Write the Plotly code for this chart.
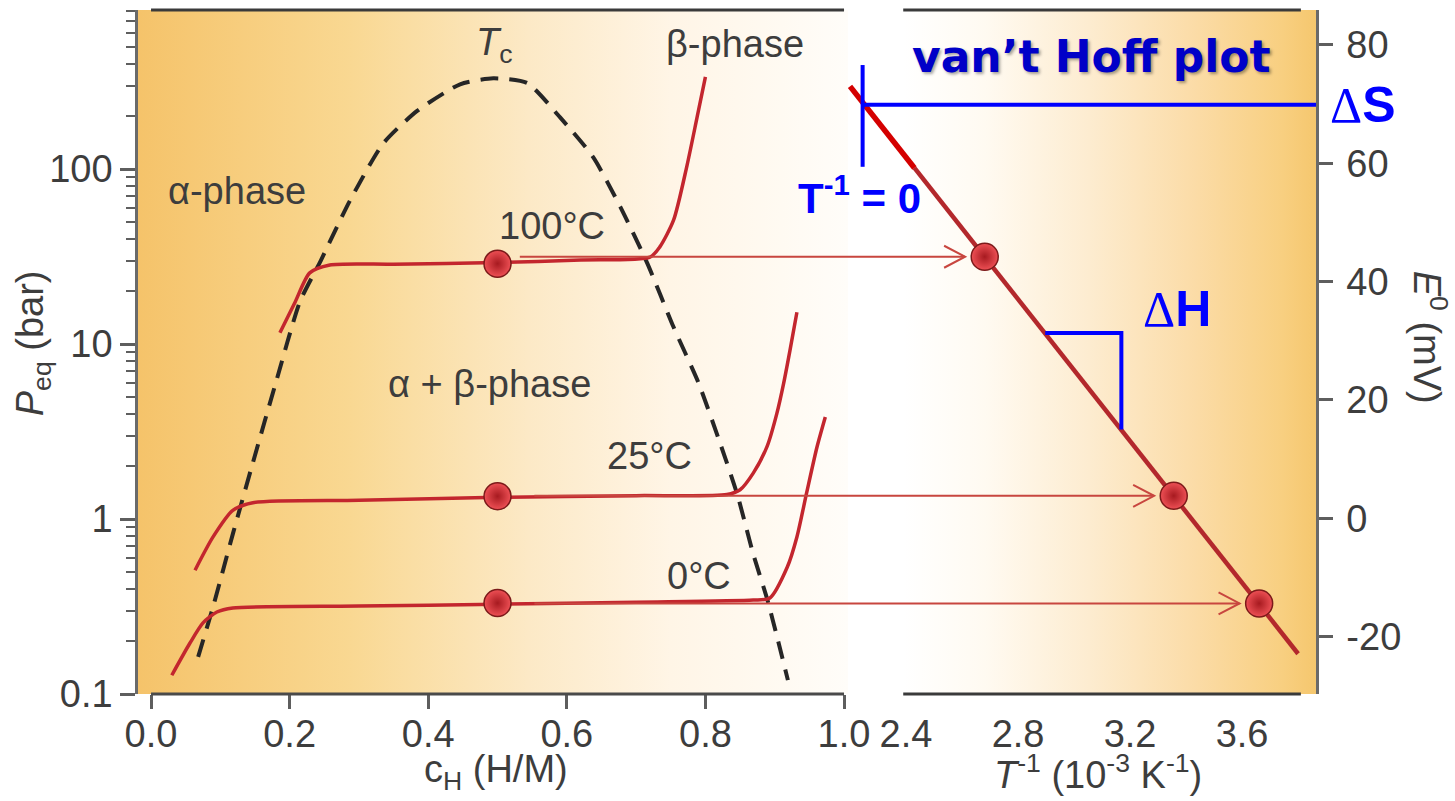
import math
import plotly.graph_objects as go

# ---------------- data ----------------
# pressure-composition isotherms (c_H in H/M, P_eq in bar)
iso100_c = [0.186, 0.208, 0.229, 0.258, 0.35, 0.50, 0.62, 0.72, 0.734, 0.754, 0.773, 0.788, 0.800]
iso100_p = [11.6, 17.4, 25.5, 28.3, 28.6, 29.2, 30.2, 31.4, 35.8, 51.0, 103.0, 198.0, 336.0]

iso25_c = [0.0635, 0.0895, 0.118, 0.147, 0.30, 0.50, 0.70, 0.831, 0.850, 0.869, 0.889, 0.903, 0.913, 0.922, 0.932]
iso25_p = [0.51, 0.79, 1.12, 1.24, 1.28, 1.33, 1.36, 1.38, 1.47, 1.83, 2.60, 4.00, 6.00, 9.20, 15.2]

iso0_c = [0.030, 0.056, 0.075, 0.095, 0.118, 0.30, 0.50, 0.70, 0.869, 0.893, 0.918, 0.932, 0.946, 0.961, 0.973]
iso0_p = [0.128, 0.195, 0.255, 0.294, 0.310, 0.318, 0.326, 0.335, 0.344, 0.354, 0.53, 0.79, 1.41, 2.58, 3.83]

# two-phase (alpha + beta) coexistence dome
dome_c = [0.068, 0.090, 0.118, 0.147, 0.180, 0.215, 0.245, 0.287, 0.335, 0.384, 0.446, 0.494,
          0.543, 0.590, 0.638, 0.677, 0.716, 0.754, 0.790, 0.820, 0.846, 0.869, 0.889, 0.905, 0.919]
dome_p = [0.163, 0.32, 0.82, 2.1, 6.0, 17.5, 30.0, 66.0, 140.0, 215.0, 305.0, 330.0,
          310.0, 198.0, 117.0, 61.0, 29.0, 12.5, 6.0, 2.8, 1.38, 0.63, 0.35, 0.20, 0.12]

# plateau points marked on the isotherms
temps = ["100°C", "25°C", "0°C"]
dot_c = [0.5, 0.5, 0.5]
dot_p = [28.8, 1.35, 0.331]

# van't Hoff plot: E0 (mV) against T^-1 (10^-3 K^-1)
inv_T = [2.681, 3.356, 3.661]
e0 = [44.2, 3.8, -14.4]
fit_x = [2.20, 2.43, 3.80]
fit_e = [73.0, 59.2, -22.9]
arrow_start_c = [0.530, 0.551, 0.551]

# construction lines for entropy / enthalpy
ds_vert_x = [2.245, 2.245]
ds_vert_e = [76.6, 59.4]
ds_horiz_x = [2.245, 3.864]
ds_horiz_e = [69.9, 69.9]
dh_x = [2.897, 3.169, 3.169]
dh_e = [31.3, 31.3, 15.0]

x_ticks_left = [0.0, 0.2, 0.4, 0.6, 0.8, 1.0]
x_ticks_right = [2.4, 2.8, 3.2, 3.6]
y_ticks_right = [-20, 0, 20, 40, 60, 80]

# ---------------- layout constants ----------------
W, H = 1455, 801
M_L, M_R, M_T, M_B = 138, 139, 10, 107
DOM_L = [0.0, 0.6027]
DOM_R = [0.545, 1.0]
XR_L = [-0.0188, 1.0057]
XR_R = [1.95, 3.864]
YR_L = [-1.0, 2.909]          # log10 range
YR_R = [-29.7, 85.9]

GRAY = "#3d3d3d"
AXC = "#5e5e5e"
RED = "#c3262e"
BLUE = "#0000ff"
FONT = "Liberation Sans"
FS = 38
DELTA = "<span style='font-family:Liberation Serif;font-weight:normal'>Δ</span>"


def c_to_x2(c):
    """Map a composition value on the left axis onto the right-hand x axis."""
    frac = (c - XR_L[0]) / (XR_L[1] - XR_L[0])
    paper = DOM_L[0] + frac * (DOM_L[1] - DOM_L[0])
    f2 = (paper - DOM_R[0]) / (DOM_R[1] - DOM_R[0])
    return XR_R[0] + f2 * (XR_R[1] - XR_R[0])


fig = go.Figure()

# background shading of both panels
p_top = 10 ** YR_L[1]
fig.add_trace(go.Scatter(
    x=[XR_L[0], XR_L[1], XR_L[1], XR_L[0], XR_L[0]],
    y=[0.1, 0.1, p_top, p_top, 0.1],
    mode="none", fill="toself",
    fillgradient=dict(type="horizontal", colorscale=[
        [0.0, "#f5c36a"], [0.3, "#f9d892"], [0.55, "#fce9c6"],
        [0.75, "#fff5e6"], [1.0, "#fffdf9"]]),
    hoverinfo="skip", xaxis="x", yaxis="y"))
fig.add_trace(go.Scatter(
    x=[2.39, XR_R[1], XR_R[1], 2.39, 2.39],
    y=[YR_R[0], YR_R[0], YR_R[1], YR_R[1], YR_R[0]],
    mode="none", fill="toself",
    fillgradient=dict(type="horizontal", colorscale=[
        [0.0, "#ffffff"], [0.2, "#fffaf1"], [0.45, "#fdecd0"],
        [0.7, "#fbdca8"], [0.92, "#f8cf80"], [1.0, "#f5c76e"]]),
    hoverinfo="skip", xaxis="x2", yaxis="y2"))

# coexistence dome
fig.add_trace(go.Scatter(
    x=dome_c, y=dome_p, mode="lines",
    line=dict(color="#262626", width=4, dash="18px,11px", shape="spline", smoothing=0.6),
    hoverinfo="skip", xaxis="x", yaxis="y"))

# isotherms
for cs, ps in [(iso100_c, iso100_p), (iso25_c, iso25_p), (iso0_c, iso0_p)]:
    fig.add_trace(go.Scatter(
        x=cs, y=ps, mode="lines",
        line=dict(color=RED, width=3.5, shape="spline", smoothing=0.7),
        hoverinfo="skip", xaxis="x", yaxis="y"))

# van't Hoff line (extrapolated part brighter)
fig.add_trace(go.Scatter(
    x=fit_x[1:], y=fit_e[1:], mode="lines",
    line=dict(color="#b3282c", width=4.5), hoverinfo="skip", xaxis="x2", yaxis="y2"))
fig.add_trace(go.Scatter(
    x=fit_x[:2], y=fit_e[:2], mode="lines",
    line=dict(color="#d40000", width=5.5), hoverinfo="skip", xaxis="x2", yaxis="y2"))

# entropy / enthalpy construction lines
fig.add_trace(go.Scatter(x=ds_vert_x, y=ds_vert_e, mode="lines",
                         line=dict(color=BLUE, width=4), hoverinfo="skip", xaxis="x2", yaxis="y2"))
fig.add_trace(go.Scatter(x=ds_horiz_x, y=ds_horiz_e, mode="lines",
                         line=dict(color=BLUE, width=4), hoverinfo="skip", xaxis="x2", yaxis="y2"))
fig.add_trace(go.Scatter(x=dh_x, y=dh_e, mode="lines",
                         line=dict(color=BLUE, width=4), hoverinfo="skip", xaxis="x2", yaxis="y2"))

ball = dict(size=27, color="#ee5055",
            gradient=dict(type="radial", color="#a71a20"),
            line=dict(color="#7c1a1a", width=1.5))
fig.add_trace(go.Scatter(x=dot_c, y=dot_p, mode="markers", marker=ball,
                         hoverinfo="skip", xaxis="x", yaxis="y", cliponaxis=False))
fig.add_trace(go.Scatter(x=inv_T, y=e0, mode="markers", marker=ball,
                         hoverinfo="skip", xaxis="x2", yaxis="y2", cliponaxis=False))

annotations = []
shapes = []

# horizontal arrows linking each plateau to the van't Hoff plot
ARROW_C = "#c8463f"
for xs, xe, e in zip(arrow_start_c, inv_T, e0):
    tip = xe - 0.07
    annotations.append(dict(
        x=tip, y=e, xref="x2", yref="y2", ax=c_to_x2(xs), ay=e, axref="x2", ayref="y2",
        text="", showarrow=True, arrowhead=0, arrowwidth=2, arrowcolor=ARROW_C))
    shapes.append(dict(
        type="path", xref="x2", yref="y2", xsizemode="pixel", ysizemode="pixel",
        xanchor=tip, yanchor=e, path="M -21,11 L 0,0 L -21,-11",
        line=dict(color=ARROW_C, width=2)))

# panel frame lines
shapes += [
    dict(type="line", xref="x", yref="paper", x0=0.0, x1=1.0, y0=0, y1=0,
         line=dict(color="#4a4a4a", width=3)),
    dict(type="line", xref="x", yref="paper", x0=0.0, x1=1.0, y0=1, y1=1,
         line=dict(color="#3a3a3a", width=3)),
    dict(type="line", xref="x2", yref="paper", x0=2.39, x1=3.81, y0=0, y1=0,
         line=dict(color="#3a3a3a", width=3)),
    dict(type="line", xref="x2", yref="paper", x0=2.39, x1=3.81, y0=1, y1=1,
         line=dict(color="#3a3a3a", width=3)),
]


def centered(**kw):
    kw.setdefault("showarrow", False)
    kw.setdefault("xanchor", "center")
    kw.setdefault("yanchor", "middle")
    return kw


def label(text, c, p, size=FS, color=GRAY):
    annotations.append(centered(x=c, y=math.log10(p), xref="x", yref="y", text=text,
                                font=dict(family=FONT, size=size, color=color)))


label("<i>T</i><sub>c</sub>", 0.496, 10 ** 2.709)
label("β-phase", 0.843, 10 ** 2.714)
label("α-phase", 0.124, 10 ** 1.874)
label("α + β-phase", 0.488, 10 ** 0.77)
label(temps[0], 0.579, 10 ** 1.674)
label(temps[1], 0.72, 10 ** 0.36)
label(temps[2], 0.791, 10 ** -0.326)

# axis titles
annotations += [
    centered(x=-0.089, y=0.513, xref="paper", yref="paper", textangle=-90,
             text="<i>P</i><sub>eq</sub> (bar)",
             font=dict(family=FONT, size=FS, color=GRAY)),
    centered(x=0.304, y=-0.114, xref="paper", yref="paper",
             text="c<sub>H</sub> (H/M)",
             font=dict(family=FONT, size=FS, color=GRAY)),
    centered(x=0.815, y=-0.114, xref="paper", yref="paper",
             text="<i>T</i><sup>-1</sup> (10<sup>-3</sup> K<sup>-1</sup>)",
             font=dict(family=FONT, size=FS, color=GRAY)),
    centered(x=1.097, y=0.522, xref="paper", yref="paper", textangle=90,
             text="<i>E</i><sup>0</sup> (mV)",
             font=dict(family=FONT, size=FS, color=GRAY)),
]

# blue labels of the van't Hoff construction
annotations += [
    centered(x=3.063, y=78.0, xref="x2", yref="y2", text="van’t Hoff plot",
             font=dict(family="DejaVu Sans", size=44, color="#0000c8", weight="bold",
                       shadow="2px 2px 3px rgba(0,0,0,0.35)")),
    centered(x=2.235, y=54.7, xref="x2", yref="y2", text="T<sup>-1</sup> = 0",
             font=dict(family=FONT, size=42, color=BLUE, weight="bold")),
    centered(x=1.04, y=69.9, xref="paper", yref="y2", text=DELTA + "S",
             font=dict(family=FONT, size=50, color=BLUE, weight="bold")),
    centered(x=3.367, y=35.3, xref="x2", yref="y2", text=DELTA + "H",
             font=dict(family=FONT, size=50, color=BLUE, weight="bold")),
]

tickfont = dict(family=FONT, size=FS, color=GRAY)
fig.update_layout(
    width=W, height=H,
    margin=dict(l=M_L, r=M_R, t=M_T, b=M_B),
    paper_bgcolor="white", plot_bgcolor="rgba(0,0,0,0)",
    showlegend=False,
    xaxis=dict(domain=DOM_L, range=XR_L, anchor="y",
               tickvals=x_ticks_left, ticktext=[f"{v:.1f}" for v in x_ticks_left],
               ticks="outside", ticklen=14, tickwidth=2.5, tickcolor=AXC,
               ticklabelstandoff=-8,
               showline=False, showgrid=False, zeroline=False, tickfont=tickfont),
    yaxis=dict(domain=[0, 1], type="log", range=YR_L, anchor="x",
               dtick=1, ticks="outside", ticklen=15, tickwidth=2.5, tickcolor=AXC,
               showline=True, linecolor="#6a6a6a", linewidth=2.5,
               minor=dict(dtick="D1", ticks="outside", ticklen=9, tickwidth=2, tickcolor=AXC,
                          showgrid=False),
               showgrid=False, zeroline=False, tickfont=tickfont),
    xaxis2=dict(domain=DOM_R, range=XR_R, anchor="y2",
                tickvals=x_ticks_right, ticktext=[f"{v:.1f}" for v in x_ticks_right],
                ticks="outside", ticklen=14, tickcolor="rgba(0,0,0,0)",
                ticklabelstandoff=-8,
                showline=False, showgrid=False, zeroline=False, tickfont=tickfont),
    yaxis2=dict(domain=[0, 1], range=YR_R, anchor="x2", side="right",
                tickvals=y_ticks_right, ticktext=[str(v) for v in y_ticks_right],
                ticks="outside", ticklen=14, tickwidth=2.5, tickcolor=AXC,
                ticklabelstandoff=6,
                showline=True, linecolor="#6a6a6a", linewidth=2.5,
                showgrid=False, zeroline=False, tickfont=tickfont),
    annotations=annotations,
    shapes=shapes,
)

fig.write_html("out.html")
